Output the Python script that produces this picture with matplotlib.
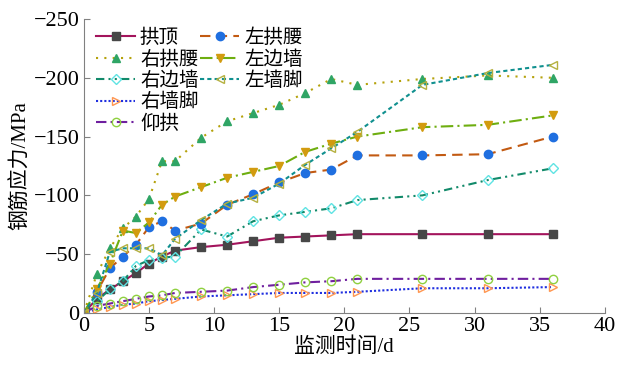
import numpy as np
import matplotlib.pyplot as plt
from matplotlib.lines import Line2D

# 监测时间 (d)
days = [0, 1, 2, 3, 4, 5, 6, 7, 9, 11, 13, 15, 17, 19, 21, 26, 31, 36]

# 钢筋应力 (MPa)
gongding = [0, -12, -20, -27, -34, -42, -48, -53, -56, -58, -61, -64, -65, -66, -67, -67, -67, -67]
zuo_gongyao = [0, -18, -38, -48, -58, -73, -78, -70, -76, -92, -101, -111, -119, -122, -134, -134, -135, -150]
you_gongyao = [0, -33, -55, -72, -82, -97, -129, -129, -149, -163, -170, -177, -187, -199, -194, -199, -202, -200]
zuo_bianqiang = [0, -20, -42, -70, -68, -77, -92, -99, -107, -115, -120, -125, -137, -144, -150, -158, -160, -168]
you_bianqiang = [0, -10, -20, -27, -40, -45, -47, -48, -71, -65, -78, -83, -86, -89, -96, -100, -113, -123]
zuo_qiangjiao = [0, -17, -52, -55, -55, -55, -49, -63, -79, -93, -98, -110, -126, -140, -154, -194, -204, -211]
you_qiangjiao = [0, -3, -5, -7, -8, -10, -11, -12, -14, -15, -16, -17, -17, -17, -18, -21, -21, -22]
yanggong = [0, -6, -8, -10, -12, -14, -15, -17, -18, -19, -22, -24, -26, -27, -29, -29, -29, -29]

plt.rcParams['font.family'] = ['Liberation Serif', 'Noto Sans CJK SC']
plt.rcParams['axes.unicode_minus'] = True

fig = plt.figure(figsize=(6.4, 3.73), dpi=100)
ax = fig.add_axes([0.131, 0.161, 0.814, 0.788])

ms = 6
series = [
    (gongding, '拱顶', dict(color='#a3145c', ls='-', marker='s', mfc='#474747', mec='#474747')),
    (you_gongyao, '右拱腰', dict(color='#b5a20c', ls=(0, (1, 3)), marker='^', mfc='#2fa565', mec='#2fa565')),
    (you_bianqiang, '右边墙', dict(color='#128a6a', ls=(0, (4, 2, 1, 2, 1, 2)), marker='D', ms=ms - 1, mfc='none', mec='#5fe3e3')),
    (you_qiangjiao, '右墙脚', dict(color='#1f2fe0', ls=(0, (1, 1)), marker='>', mfc='none', mec='#ff9650')),
    (yanggong, '仰拱', dict(color='#6f1f9f', ls=(0, (5, 2, 1, 2)), marker='o', mfc='none', mec='#8fd03f')),
    (zuo_gongyao, '左拱腰', dict(color='#c25a12', ls=(0, (5, 3)), marker='o', mfc='#1f6fe0', mec='#1f6fe0')),
    (zuo_bianqiang, '左边墙', dict(color='#6eae10', ls=(0, (6, 2, 1, 2)), marker='v', mfc='#d29b0f', mec='#d29b0f')),
    (zuo_qiangjiao, '左墙脚', dict(color='#10908f', ls=(0, (2, 1.5)), marker='<', mfc='none', mec='#b5b040')),
]

handles = []
for vals, name, style in series:
    style.setdefault('ms', ms)
    line, = ax.plot(days, vals, lw=1.5, mew=1, label=name, **style)
    handles.append(line)

# 空白占位, 使图例左列 5 项、右列 3 项
blank = Line2D([], [], alpha=0)
handles = handles + [blank, blank]
labels = [h.get_label() for h in handles[:8]] + ['', '']
ax.legend(handles, labels, ncol=2, loc='upper left', bbox_to_anchor=(0.005, 1.0),
          frameon=False, fontsize=14, labelspacing=0.15, handlelength=2.0,
          handletextpad=0.25, columnspacing=0.1, borderaxespad=0.1)

ax.set_xlim(0, 40)
ax.set_ylim(0, -250)
ax.set_xticks(np.arange(0, 41, 5))
ax.set_yticks(np.arange(0, -251, -50))
ax.tick_params(direction='in', length=4, labelsize=16, pad=3, colors='#808080', labelcolor='black')

for side in ['top', 'right']:
    ax.spines[side].set_visible(False)
for side in ['left', 'bottom']:
    ax.spines[side].set_color('#808080')

ax.set_xlabel('监测时间/d', fontsize=15, labelpad=1)
ax.set_ylabel('钢筋应力/MPa', fontsize=15, labelpad=2)

fig.savefig('out.png', dpi=100)
